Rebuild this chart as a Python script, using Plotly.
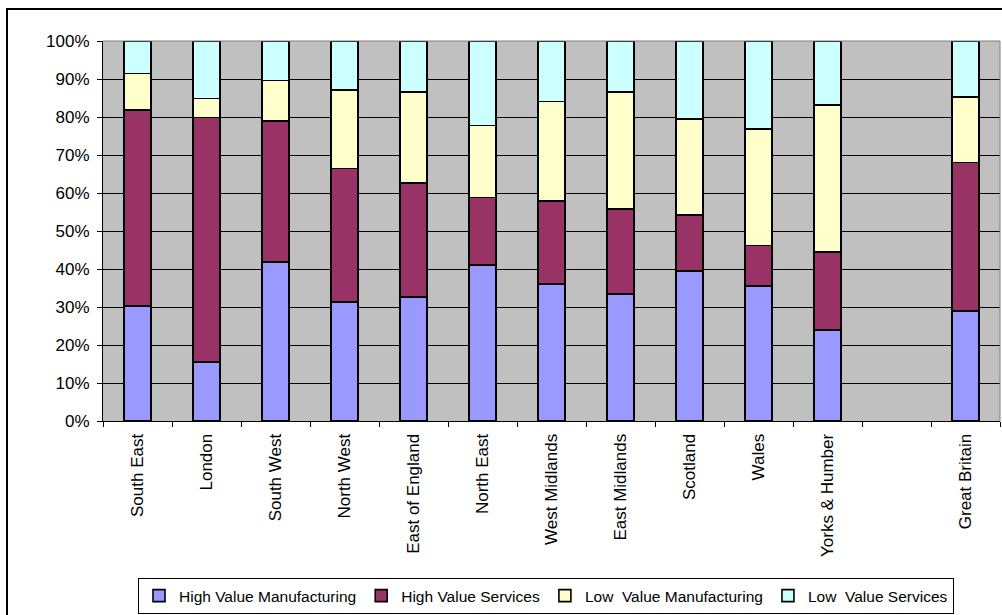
import plotly.graph_objects as go

regions = ["South East", "London", "South West", "North West", "East of England",
           "North East", "West Midlands", "East Midlands", "Scotland", "Wales",
           "Yorks & Humber", " ", "Great Britain"]

high_value_manufacturing = [30.2, 15.5, 41.9, 31.3, 32.7, 41.1, 36.1, 33.5, 39.4, 35.6, 23.9, None, 29.0]
high_value_services      = [51.7, 64.4, 37.1, 35.1, 30.0, 17.7, 21.8, 22.3, 14.8, 10.6, 20.6, None, 39.0]
low_value_manufacturing  = [9.6, 5.0, 10.6, 20.7, 23.9, 19.0, 26.2, 30.8, 25.3, 30.7, 38.7, None, 17.3]
low_value_services       = [8.5, 15.1, 10.4, 12.9, 13.4, 22.2, 15.9, 13.4, 20.5, 23.1, 16.8, None, 14.7]

series = [
    ("High Value Manufacturing", high_value_manufacturing, "#9999FF"),
    ("High Value Services", high_value_services, "#993366"),
    ("Low  Value Manufacturing", low_value_manufacturing, "#FFFFCC"),
    ("Low  Value Services", low_value_services, "#CCFFFF"),
]

FONT = "Liberation Sans, Arial, sans-serif"

fig = go.Figure()
for name, vals, color in series:
    fig.add_trace(go.Bar(
        x=regions, y=vals, name=name,
        marker=dict(color=color, line=dict(color="black", width=1.6)),
    ))

W, H = 1002, 615
L, R, T, B = 103, 2, 41, 194
pw = W - L - R
ph = H - T - B

def px(x):
    return (x - L) / pw

def py(y):
    return (H - B - y) / ph

fig.update_layout(
    width=W, height=H,
    barmode="stack",
    bargap=0.61,
    margin=dict(l=L, r=R, t=T, b=B, autoexpand=False),
    paper_bgcolor="white",
    plot_bgcolor="#C0C0C0",
    font=dict(family=FONT, size=16, color="black"),
    showlegend=True,
    legend=dict(
        orientation="h",
        x=px(138), xanchor="left",
        y=py(578), yanchor="top",
        bordercolor="black", borderwidth=1,
        bgcolor="white",
        font=dict(family=FONT, size=15.5),
        itemwidth=30,
        traceorder="normal",
    ),
    xaxis=dict(
        type="category",
        tickson="boundaries",
        ticks="outside", ticklen=5, tickcolor="black",
        showgrid=False,
        showline=True, linecolor="black", linewidth=1,
        tickangle=-90,
        tickfont=dict(family=FONT, size=17),
        ticklabelstandoff=5,
        zeroline=False,
        automargin=False,
    ),
    yaxis=dict(
        range=[0, 100],
        dtick=10,
        ticksuffix="%",
        ticks="outside", ticklen=5, tickcolor="black",
        showgrid=True, gridcolor="black", gridwidth=1,
        showline=True, linecolor="black", linewidth=1,
        tickfont=dict(family=FONT, size=17),
        ticklabelstandoff=4,
        zeroline=False,
        automargin=False,
    ),
    shapes=[
        dict(type="rect", xref="paper", yref="paper",
             x0=px(7), x1=px(1010), y0=py(9), y1=py(630),
             line=dict(color="black", width=2), fillcolor="rgba(0,0,0,0)", layer="below"),
        dict(type="line", xref="paper", yref="paper",
             x0=1, x1=1, y0=0, y1=1, line=dict(color="#808080", width=1)),
        dict(type="line", xref="paper", yref="paper",
             x0=0, x1=1, y0=1, y1=1, line=dict(color="#808080", width=1)),
    ],
)

fig.write_html("out.html")
